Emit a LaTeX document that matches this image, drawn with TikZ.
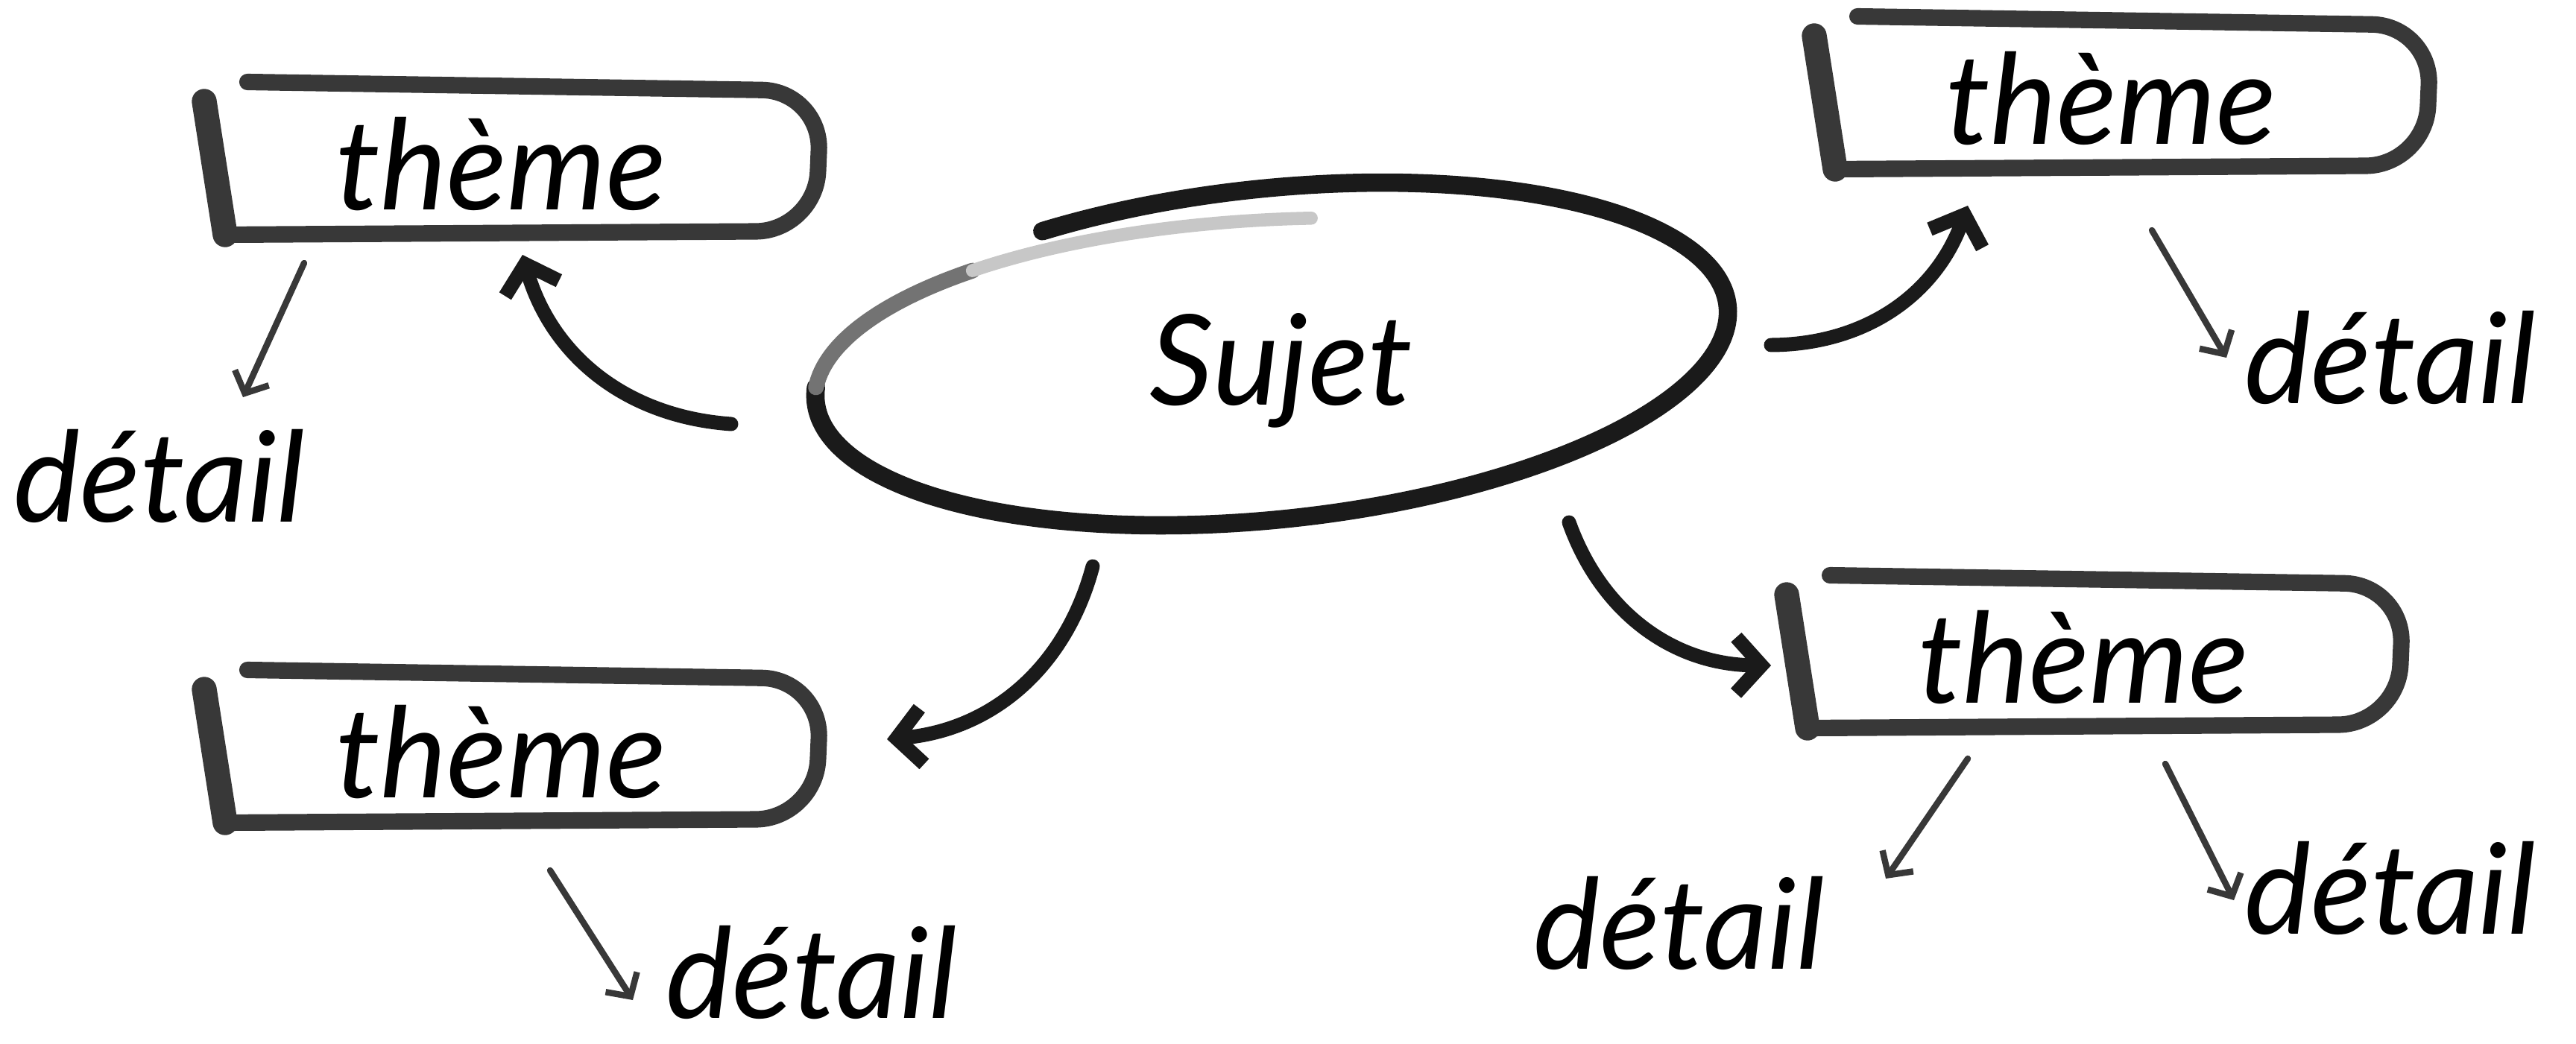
\documentclass[tikz,border=0pt]{standalone}
\usepackage{fontspec}
\setmainfont{Lato}
\usetikzlibrary{calc,arrows.meta}
\definecolor{brushgray}{HTML}{383838}
\definecolor{pencil}{HTML}{1A1A1A}

% brushed frame round a theme word
\newcommand\brushframe[1]{%
  \draw [brush] ($(#1)+(-3.4,1.1)$) [rounded corners=8mm] -- ($(#1)+(4.3,0.98)$)
     -- ($(#1)+(4.22,-0.9)$) [sharp corners] -- ($(#1)+(-3.7,-0.95)$);
  \draw [brush, line width=9.5pt] ($(#1)+(-3.7,-0.95)$) -- ($(#1)+(-3.98,0.84)$);
}

\begin{document}
\begin{tikzpicture}
      \tikzset{word/.style={font=\fontsize{48}{54}\selectfont\itshape, inner sep=0pt},
          brush/.style={draw=brushgray, line width=6.3pt, line cap=round, line join=round},
          ring/.style={draw=pencil, line width=7pt, line cap=round},
          bigarrow/.style={draw=pencil, line width=5.4pt, line cap=round,
            -{Straight Barb[length=3.4mm,width=7.5mm]}},
          smallarrow/.style={draw=brushgray, line width=2.4pt, line cap=round,
            -{Straight Barb[length=2.3mm,width=5mm]}}
      }
      \useasboundingbox (0,0) rectangle (34.56,-14);
      \node [word] (sujet) at (17.19,-4.97) {Sujet};
      \node [word] (t1) at (6.72,-2.20) {thème};
      \node [word] (t2) at (28.32,-1.32) {thème};
      \node [word] (t3) at (27.95,-8.82) {thème};
      \node [word] (t4) at (6.72,-10.09) {thème};
      \node [word] (d1) at (2.14,-6.39) {détail};
      \node [word] (d2) at (32.07,-4.80) {détail};
      \node [word] (d3) at (22.53,-12.39) {détail};
      \node [word] (d4) at (32.07,-11.92) {détail};
      \node [word] (d5) at (10.89,-13.05) {détail};
      % pencil ring round the subject, its end running inside the start
      \begin{scope}[shift={($(sujet)+(-0.13,0.22)$)}, rotate=6]
        \draw [ring] (118:6.15 and 2.22) arc [start angle=118, end angle=-185, x radius=6.15, y radius=2.22];
        \draw [ring, draw=black!55, line width=6pt] plot [domain=185:230, samples=20, smooth]
          ({(6.15-0.25*(\x-185)/92)*cos(-\x)}, {(2.22-0.45*(\x-185)/92)*sin(-\x)});
        \draw [ring, draw=black!22, line width=5pt] plot [domain=230:277, samples=20, smooth]
          ({(6.15-0.25*(\x-185)/92)*cos(-\x)}, {(2.22-0.45*(\x-185)/92)*sin(-\x)});
      \end{scope}
      \foreach \t in {t1,t2,t3,t4} {\brushframe{\t}}
      \draw [bigarrow] ($(sujet)+(-7.38,-0.72)$) to [bend left=35] ($(t1)+(0.29,-1.22)$);
      \draw [bigarrow] ($(sujet)+(6.57,0.34)$) to [bend right=35] ($(t2)+(-1.92,-1.44)$);
      \draw [bigarrow] ($(sujet)+(3.86,-2.04)$) to [bend right=35] ($(t3)+(-4.19,-0.11)$);
      \draw [bigarrow] ($(sujet)+(-2.53,-2.63)$) to [bend left=35] ($(t4)+(5.18,0.17)$);
      \draw [smallarrow] ($(t1)+(-2.64,-1.33)$) -- ($(d1)+(1.12,1.06)$);
      \draw [smallarrow] ($(t2)+(0.55,-1.77)$) -- ($(d2)+(-2.20,0)$);
      \draw [smallarrow] ($(t3)+(-1.55,-1.36)$) -- ($(d3)+(2.77,0.60)$);
      \draw [smallarrow] ($(t3)+(1.10,-1.43)$) -- ($(d4)+(-2.10,-0.16)$);
      \draw [smallarrow] ($(t4)+(0.66,-1.59)$) -- ($(d5)+(-2.40,-0.37)$);

    \end{tikzpicture}
\end{document}
